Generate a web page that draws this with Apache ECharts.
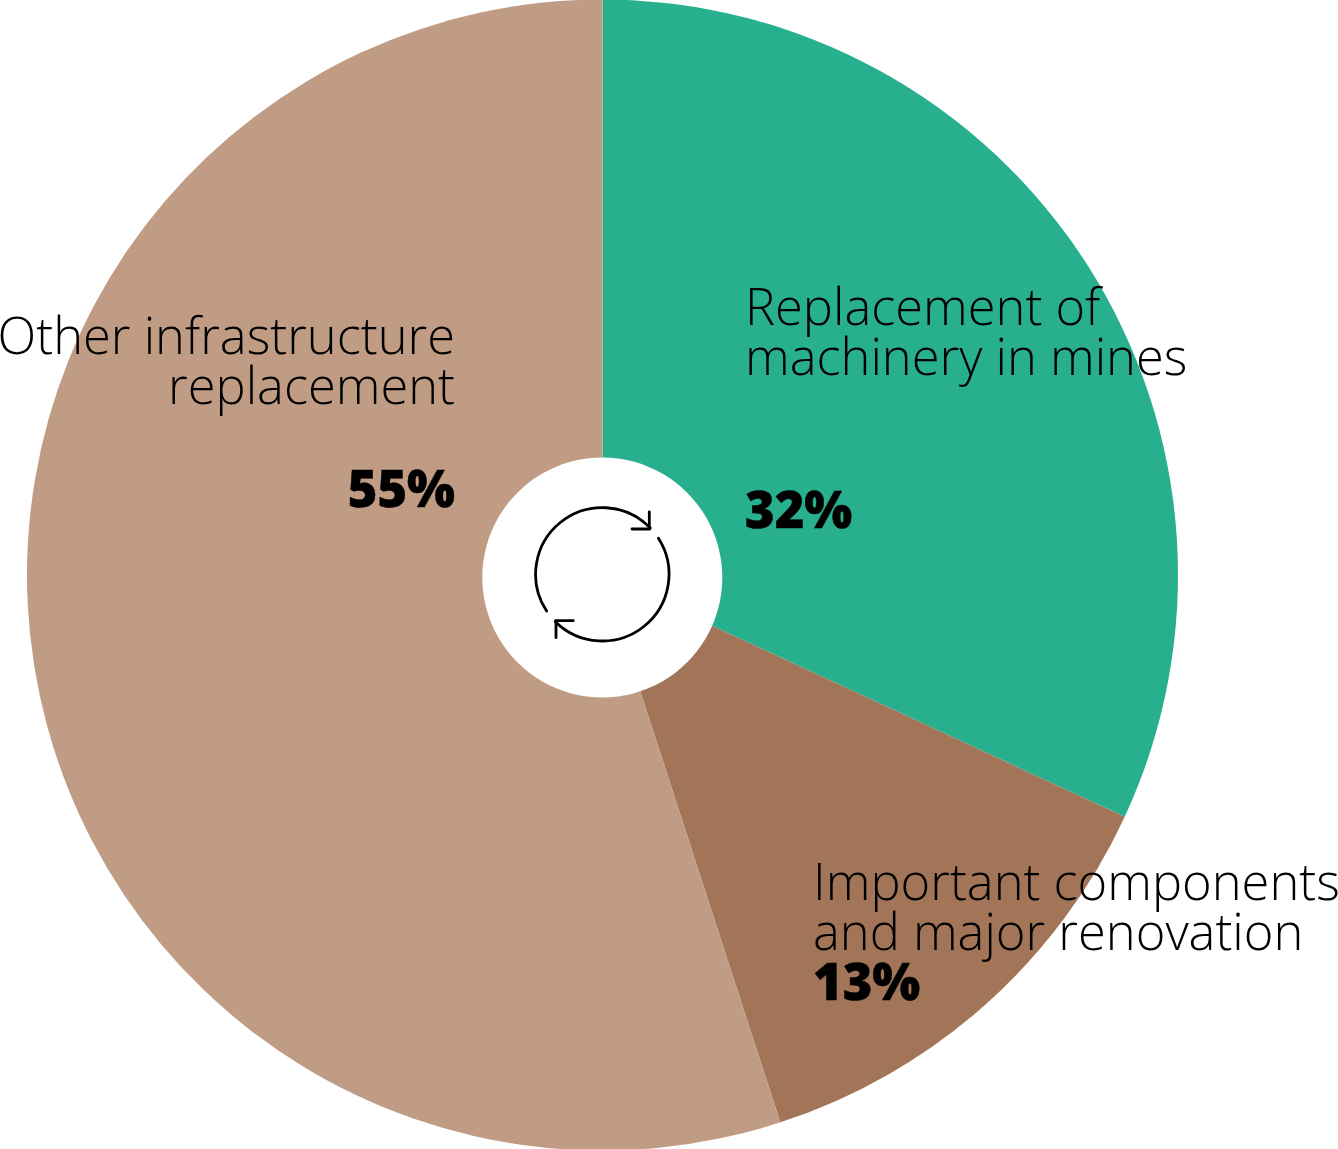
<!DOCTYPE html>
<html><head><meta charset="utf-8">
<style>html,body{margin:0;padding:0;background:#fff}#c{width:1338px;height:1149px}</style>
<script src="https://cdn.jsdelivr.net/npm/echarts@6/dist/echarts.min.js"></script>
</head><body><div id="c"></div>
<script>
const categories = ["Replacement of\nmachinery in mines","Important components\nand major renovation","Other infrastructure\nreplacement"];
const values = [31.9,13.1,55];
const colors = ["#28b08e","#a37558","#c19c84"];
const percentLabels = ["32%","13%","55%"];
const chart = echarts.init(document.getElementById('c'),null,{renderer:'svg'});
const font='"Open Sans"';
function lab(i,x,y,align,gap){
  return [
   {type:'text',z:10,x:x,y:y,style:{text:categories[i],font:'300 50.6px '+font,lineHeight:50,fill:'#000',align:align,verticalAlign:'top'}},
   {type:'text',z:10,x:x,y:y+gap,style:{text:percentLabels[i],font:'800 50.6px '+font,fill:'#000',stroke:'#000',lineWidth:0.5,align:align,verticalAlign:'top'}}
  ];
}
const cx=602.3, cy=574.3, r=66.7, rad=Math.PI/180;
const icon={fill:null,stroke:'#000',lineWidth:2.8,lineCap:'round',lineJoin:'miter'};
chart.setOption({
 animation:false,
 series:[{type:'pie',center:[602.5,575],radius:[0,575.5],startAngle:90,clockwise:true,silent:true,
   label:{show:false},labelLine:{show:false},
   data:categories.map((n,i)=>({name:n,value:values[i],itemStyle:{color:colors[i]}}))}],
 graphic:{elements:[
  {type:'circle',z:5,shape:{cx:602.3,cy:577.5,r:120},style:{fill:'#fff'}},
  ...lab(0,745,280,'left',202.5),
  ...lab(1,813,855,'left',100),
  ...lab(2,455,309,'right',153),
  {type:'arc',z:10,shape:{cx,cy,r,startAngle:146.6*rad,endAngle:316*rad,clockwise:true},style:icon},
  {type:'arc',z:10,shape:{cx,cy,r,startAngle:-32.7*rad,endAngle:135*rad,clockwise:true},style:icon},
  {type:'polyline',z:10,shape:{points:[[649.3,512],[649.3,529],[632,529]]},style:icon},
  {type:'polyline',z:10,shape:{points:[[556,637.7],[556,620.7],[573.3,620.7]]},style:icon}
 ]}
});
</script></body></html>
